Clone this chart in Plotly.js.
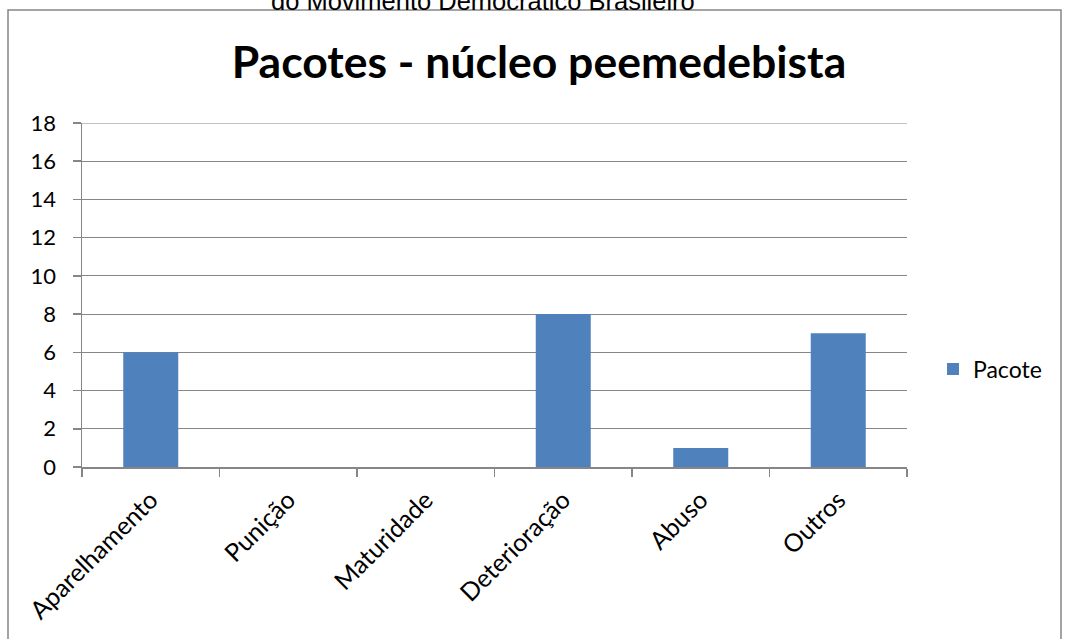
<!DOCTYPE html>
<html><head><meta charset="utf-8">
<script src="https://cdn.plot.ly/plotly-3.0.1.min.js"></script>
<style>html,body{margin:0;padding:0;background:#fff}#c{width:1068px;height:639px}</style>
</head><body><div id="c"></div>
<script>
var categories = ["Aparelhamento","Punição","Maturidade","Deterioração","Abuso","Outros"];
var values = [6, 0, 0, 8, 1, 7];
var seriesName = "Pacote";
var yTicks = [0,2,4,6,8,10,12,14,16,18];
var chartTitle = "Pacotes - núcleo peemedebista";
var topText = "do Movimento Democrático Brasileiro";

var L=82, R=161, T=123, B=172, W=1068-L-R, H=639-T-B;
function px(x){return (x-L)/W;}
function py(y){return (639-B-y)/H;}
var grey = "#868686";
var fnt = "Lato, 'Open Sans', sans-serif";

Plotly.newPlot("c", [{
  type: "bar", x: categories, y: values, name: seriesName,
  marker: {color: "#4F81BD"}, showlegend: true
}], {
  width: 1068, height: 639,
  margin: {l: L, r: R, t: T, b: B, pad: 0},
  paper_bgcolor: "#fff", plot_bgcolor: "#fff",
  bargap: 0.6,
  font: {family: fnt, size: 22, color: "#000"},
  title: {text: "<b>" + chartTitle + "</b>", font: {family: fnt, size: 44.5, color: "#000"},
    x: 539/1068, xanchor: "center", xref: "container", y: 1-62/639, yanchor: "middle", yref: "container"},
  xaxis: {showline: true, linecolor: grey, linewidth: 1.5, ticks: "outside", tickson: "boundaries",
    ticklen: 8, tickcolor: grey, tickwidth: 1.5, tickangle: -45, showgrid: false, zeroline: false,
    tickfont: {family: fnt, size: 25, color: "#000"}, ticklabelstandoff: 7, fixedrange: true},
  yaxis: {range: [0, 18], tickvals: yTicks, showline: true, linecolor: grey, linewidth: 1.5,
    ticks: "outside", ticklen: 8, tickcolor: grey, tickwidth: 1.5, showgrid: true, gridcolor: grey,
    gridwidth: 1, zeroline: false, tickfont: {family: fnt, size: 22, color: "#000"},
    ticklabelstandoff: 12},
  legend: {x: px(933), y: py(369), xanchor: "left", yanchor: "middle", font: {family: fnt, size: 23, color: "#000"},
    bgcolor: "rgba(0,0,0,0)"},
  shapes: [
    {type: "rect", xref: "paper", yref: "paper", x0: px(8), x1: px(1061), y0: py(650), y1: py(10),
      line: {color: grey, width: 1.5}, fillcolor: "rgba(0,0,0,0)", layer: "below"},
    {type: "line", xref: "paper", yref: "y", x0: 0, x1: 1, y0: yTicks[yTicks.length-1], y1: yTicks[yTicks.length-1],
      line: {color: grey, width: 1}, layer: "below"}
  ],
  annotations: [{text: topText, xref: "paper", yref: "paper", x: px(483), y: py(1), xanchor: "center",
    yanchor: "middle", showarrow: false, font: {family: "'Liberation Sans', Arial, sans-serif", size: 25.5, color: "#000"}}]
}, {staticPlot: true});
</script></body></html>
